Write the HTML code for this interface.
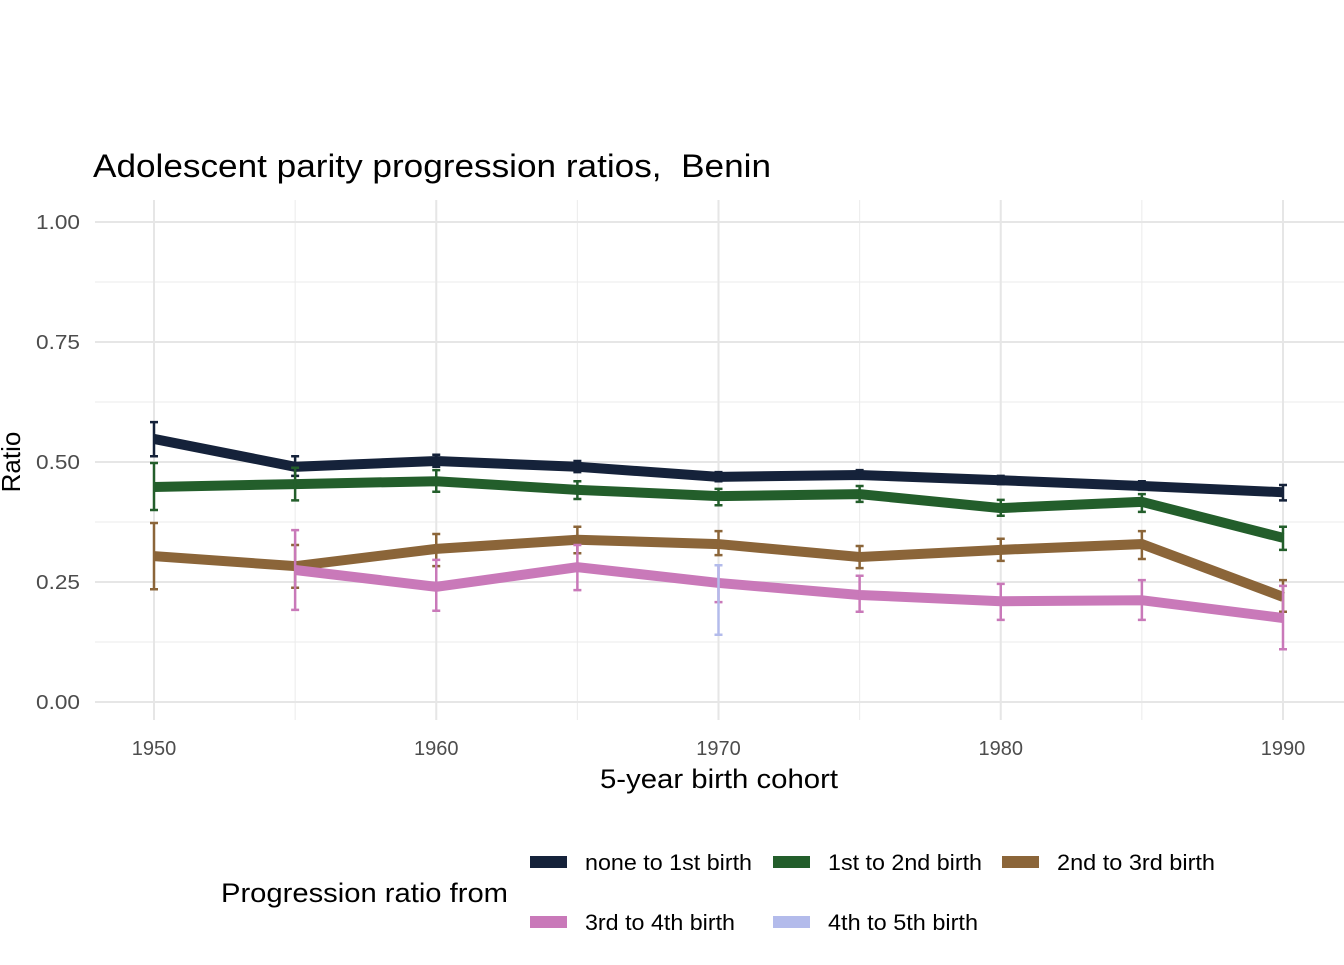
<!DOCTYPE html>
<html><head><meta charset="utf-8"><style>
body{margin:0;background:#fff;}
svg text{font-family:"Liberation Sans",Arial,sans-serif;}
</style></head><body>
<svg id="chart" width="1344" height="960" xmlns="http://www.w3.org/2000/svg">
<rect width="1344" height="960" fill="#fff"/>
<g id="grid"></g>
<g id="series"></g>
<g id="axes"></g>
<text x="93" y="177" font-size="32" textLength="678" lengthAdjust="spacingAndGlyphs" fill="#000">Adolescent parity progression ratios,&#160; Benin</text>
<text x="600" y="788" font-size="27" textLength="238" lengthAdjust="spacingAndGlyphs" fill="#000">5-year birth cohort</text>
<text transform="translate(20,462) rotate(-90)" font-size="26" text-anchor="middle" fill="#000">Ratio</text>
<text x="221" y="902" font-size="27" textLength="287" lengthAdjust="spacingAndGlyphs" fill="#000">Progression ratio from</text>
<g id="legend"></g>
</svg>
<script>
const years=[1950,1955,1960,1965,1970,1975,1980,1985,1990];
const seriesNames=["none to 1st birth","1st to 2nd birth","2nd to 3rd birth","3rd to 4th birth","4th to 5th birth"];
const seriesColors=["#15223a","#235e2b","#8b6539","#c979b9","#b3bbeb"];
const s1=[0.548,0.490,0.502,0.490,0.469,0.473,0.462,0.450,0.437];
const s1lo=[0.512,0.471,0.490,0.479,0.460,0.465,0.454,0.442,0.420];
const s1hi=[0.583,0.512,0.515,0.502,0.479,0.483,0.471,0.460,0.452];
const s2=[0.448,0.454,0.460,0.442,0.429,0.433,0.404,0.417,0.342];
const s2lo=[0.400,0.420,0.438,0.423,0.410,0.417,0.388,0.396,0.317];
const s2hi=[0.498,0.488,0.483,0.460,0.444,0.450,0.421,0.433,0.365];
const s3=[0.304,0.283,0.319,0.338,0.329,0.302,0.317,0.329,0.219];
const s3lo=[0.235,0.238,0.283,0.310,0.306,0.279,0.294,0.298,0.188];
const s3hi=[0.373,0.327,0.350,0.365,0.356,0.325,0.340,0.356,0.254];
const s4=[null,0.275,0.240,0.281,0.248,0.223,0.210,0.212,0.175];
const s4lo=[null,0.192,0.190,0.233,0.208,0.188,0.171,0.171,0.110];
const s4hi=[null,0.358,0.296,0.327,0.285,0.263,0.246,0.254,0.242];
const s5=[null,null,null,null,0.245,null,null,null,null];
const s5lo=[null,null,null,null,0.140,null,null,null,null];
const s5hi=[null,null,null,null,0.285,null,null,null,null];
const yTicks=[0,0.25,0.5,0.75,1.0];
const yTickLabels=["0.00","0.25","0.50","0.75","1.00"];
const xTicks=[1950,1960,1970,1980,1990];

const NS="http://www.w3.org/2000/svg";
const X=v=>154+(v-1950)*(1283-154)/40;
const Y=v=>702-v*480;
function mk(tag,parent,attrs){const e=document.createElementNS(NS,tag);for(const k in attrs)e.setAttribute(k,attrs[k]);parent.appendChild(e);return e;}
const grid=document.getElementById('grid'),axes=document.getElementById('axes'),ser=document.getElementById('series'),leg=document.getElementById('legend');
for(let v=0.125;v<1.1;v+=0.25){const l=mk('line',grid,{x1:95,x2:1344,y1:Y(v),y2:Y(v),stroke:'#ebebeb','stroke-width':1});

}
for(let v=1955;v<1990;v+=10){const l=mk('line',grid,{x1:X(v),x2:X(v),y1:200,y2:720,stroke:'#ebebeb','stroke-width':1});

}
yTicks.forEach((v,i)=>{const l=mk('line',grid,{x1:95,x2:1344,y1:Y(v),y2:Y(v),stroke:'#e6e6e6','stroke-width':2});


const t=mk('text',axes,{x:80,y:Y(v)+7,'font-size':20,textLength:44,lengthAdjust:'spacingAndGlyphs','text-anchor':'end',fill:'#4d4d4d'});t.textContent=yTickLabels[i];

});
xTicks.forEach(v=>{const l=mk('line',grid,{x1:X(v),x2:X(v),y1:200,y2:720,stroke:'#e6e6e6','stroke-width':2});


const t=mk('text',axes,{x:X(v),y:755,'font-size':20,'text-anchor':'middle',fill:'#4d4d4d'});t.textContent=v;

});
const all=[[s1,s1lo,s1hi],[s2,s2lo,s2hi],[s3,s3lo,s3hi],[s4,s4lo,s4hi],[s5,s5lo,s5hi]];
all.forEach((d,si)=>{const c=seriesColors[si];const g=mk('g',ser,{});


const pts=[];d[0].forEach((v,i)=>{if(v!=null)pts.push(X(years[i])+','+Y(v));});
if(pts.length>1){const p=mk('polyline',g,{points:pts.join(' '),fill:'none',stroke:c,'stroke-width':10,'stroke-linejoin':'miter'});

}
d[0].forEach((v,i)=>{if(d[1][i]==null)return;const x=X(years[i]);const e=mk('path',g,{d:`M${x-4},${Y(d[2][i])}H${x+4}M${x},${Y(d[2][i])}V${Y(d[1][i])}M${x-4},${Y(d[1][i])}H${x+4}`,stroke:c,'stroke-width':2.5,fill:'none'});

});});
const legPos=[[530,862],[773,862],[1002,862],[530,922],[773,922]];
const legW=[167,154,158,150,150];
seriesNames.forEach((n,i)=>{const g=mk('g',leg,{});


const [x,y]=legPos[i];mk('rect',g,{x:x,y:y-6,width:37,height:12,fill:seriesColors[i]});
const t=mk('text',g,{x:x+55,y:y+8,'font-size':22,textLength:legW[i],lengthAdjust:'spacingAndGlyphs',fill:'#000'});t.textContent=n;});
</script>
</body></html>
